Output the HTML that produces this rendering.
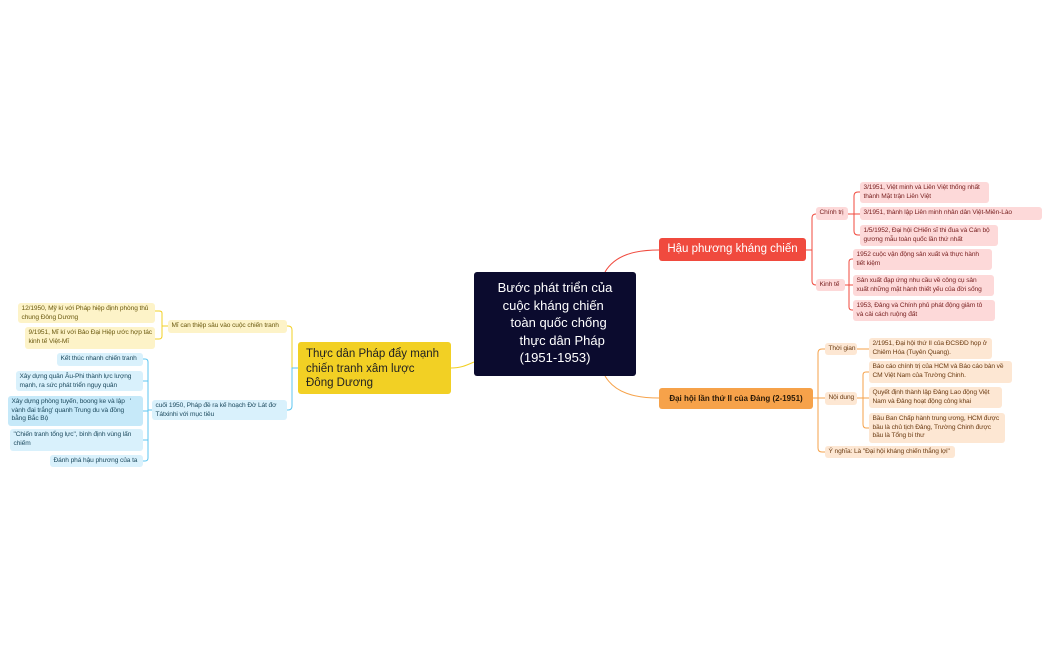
<!DOCTYPE html>
<html><head><meta charset="utf-8"><style>
body{margin:0;width:1050px;height:650px;background:#fff;position:relative;overflow:hidden;font-family:"Liberation Sans",sans-serif}
.n{position:absolute;box-sizing:border-box;border-radius:3px;font-size:6.6px;line-height:8.5px;padding:2px 3px 2px 3.5px;white-space:nowrap;letter-spacing:-0.1px}
.y{background:#fdf3c8;color:#6b5a10}
.b{background:#d9f1fc;color:#1d4a5e}
.r{background:#fdd9d9;color:#7a2323}
.o{background:#fde7d3;color:#6b3b12}
svg{position:absolute;left:0;top:0}
</style></head><body>
<svg width="1050" height="650" fill="none" stroke-width="1">
<path d="M605 272 C615 255,635 250,659 250" stroke="#f04a3e"/>
<path d="M605 376 C615 393,635 398,659 398" stroke="#f6a24a"/>
<path d="M474 362 C465 366,460 368,451 368" stroke="#f2d024"/>
<path d="M298 368 H292 V330 Q292 326 288 326 H287" stroke="#f2d024"/>
<path d="M298 368 H292 V406 Q292 410 288 410 H287" stroke="#5cc6f0"/>
<path d="M168 326 H162 V313 Q162 311 159 311 H155 M162 326 V336 Q162 339 159 339 H155" stroke="#f2d024"/>
<path d="M152 410 H148 V362 Q148 359 145 359 H143 M148 381 H143 M148 411 H143 M148 440 H143 M148 410 V458 Q148 461 145 461 H143" stroke="#5cc6f0"/>
<path d="M806 250 H812 V218 Q812 214 816 214 M812 250 V281 Q812 285 816 285" stroke="#f04a3e"/>
<path d="M848 214 H854 V196 Q854 192 858 192 H860 M854 214 H860 M854 214 V231 Q854 235 858 235 H860" stroke="#f04a3e"/>
<path d="M845 285 H849 V262 Q849 259 852 259 H853 M849 285 H853 M849 285 V307 Q849 310 852 310 H853" stroke="#f04a3e"/>
<path d="M813 398 H818 V353 Q818 349 822 349 H825 M818 398 H825 M818 398 V448 Q818 452 822 452 H825" stroke="#f6a24a"/>
<path d="M857 349 H869 M857 398 H863 V375 Q863 372 866 372 H869 M863 398 H869 M863 398 V424 Q863 428 866 428 H869" stroke="#f6a24a"/>
</svg>

<div style="position:absolute;left:474px;top:272px;width:162px;height:104px;background:#0b0b2e;border-radius:3px;color:#fff;font-size:13px;line-height:17.5px;text-align:center;padding-top:7px;box-sizing:border-box">Bước phát triển của<br>cuộc kháng chiến&nbsp;<br>&nbsp; toàn quốc chống<br>&nbsp; &nbsp; thực dân Pháp<br>(1951-1953)</div>

<div style="position:absolute;left:298px;top:342px;width:153px;height:52px;background:#f2d024;border-radius:3px;color:#222;font-size:11.5px;line-height:14.5px;padding:5px 8px;box-sizing:border-box">Thực dân Pháp đẩy mạnh<br>chiến tranh xâm lược<br>Đông Dương</div>

<div style="position:absolute;left:659px;top:238px;width:147px;height:23px;background:#f04a3e;border-radius:3px;color:#fff;font-size:11.5px;line-height:23px;text-align:center">Hậu phương kháng chiến</div>

<div style="position:absolute;left:659px;top:388px;width:154px;height:21px;background:#f6a24a;border-radius:3px;color:#2a1a08;font-size:8px;font-weight:bold;line-height:21px;text-align:center">Đại hội lần thứ II của Đảng (2-1951)</div>

<div class="n y" style="left:168px;top:320px;width:119px;height:13px">Mĩ can thiệp sâu vào cuộc chiến tranh</div>
<div class="n y" style="left:18px;top:303px;width:137px;height:20px">12/1950, Mỹ kí với Pháp hiệp định phòng thủ<br>chung Đông Dương</div>
<div class="n y" style="left:25px;top:327px;width:130px;height:22px">9/1951, Mĩ kí với Bảo Đại Hiệp ước hợp tác<br>kinh tế Việt-Mĩ</div>

<div class="n b" style="left:152px;top:400px;width:135px;height:20px">cuối 1950, Pháp đề ra kế hoạch Đờ Lát đơ<br>Tátxinhi với mục tiêu</div>
<div class="n b" style="left:57px;top:353px;width:86px;height:13px">Kết thúc nhanh chiến tranh</div>
<div class="n b" style="left:16px;top:371px;width:127px;height:20px">Xây dựng quân Âu-Phi thành lực lượng<br>mạnh, ra sức phát triển ngụy quân</div>
<div class="n b" style="left:8px;top:396px;width:135px;height:30px;background:#c6e9f9">Xây dựng phòng tuyến, boong ke và lập&nbsp; &nbsp;'<br>vành đai trắng' quanh Trung du và đồng<br>bằng Bắc Bộ</div>
<div class="n b" style="left:10px;top:429px;width:133px;height:22px">"Chiến tranh tổng lực", bình định vùng lấn<br>chiếm</div>
<div class="n b" style="left:50px;top:455px;width:93px;height:12px">Đánh phá hậu phương của ta</div>

<div class="n r" style="left:816px;top:207px;width:32px;height:13px">Chính trị</div>
<div class="n r" style="left:816px;top:279px;width:29px;height:12px">Kinh tế</div>
<div class="n r" style="left:860px;top:182px;width:129px;height:21px">3/1951, Việt minh và Liên Việt thống nhất<br>thành Mặt trận Liên Việt</div>
<div class="n r" style="left:860px;top:207px;width:182px;height:13px">3/1951, thành lập Liên minh nhân dân Việt-Miên-Lào</div>
<div class="n r" style="left:860px;top:225px;width:138px;height:21px">1/5/1952, Đại hội CHiến sĩ thi đua và Cán bộ<br>gương mẫu toàn quốc lần thứ nhất</div>
<div class="n r" style="left:853px;top:249px;width:139px;height:21px">1952 cuộc vận động sản xuất và thực hành<br>tiết kiệm</div>
<div class="n r" style="left:853px;top:275px;width:141px;height:21px">Sản xuất đạp ứng nhu cầu về công cụ sản<br>xuất những mặt hành thiết yếu của đời sống</div>
<div class="n r" style="left:853px;top:300px;width:142px;height:21px">1953, Đảng và Chính phủ phát động giảm tô<br>và cải cách ruộng đất</div>

<div class="n o" style="left:825px;top:343px;width:32px;height:12px">Thời gian</div>
<div class="n o" style="left:825px;top:392px;width:32px;height:13px">Nội dung</div>
<div class="n o" style="left:825px;top:446px;width:130px;height:12px">Ý nghĩa: Là "Đại hội kháng chiến thắng lợi"</div>
<div class="n o" style="left:869px;top:338px;width:123px;height:21px">2/1951, Đại hội thứ II của ĐCSĐD họp ở<br>Chiêm Hóa (Tuyên Quang).</div>
<div class="n o" style="left:869px;top:361px;width:143px;height:22px">Báo cáo chính trị của HCM và Báo cáo bàn về<br>CM Việt Nam của Trường Chinh.</div>
<div class="n o" style="left:869px;top:387px;width:133px;height:21px">Quyết định thành lập Đảng Lao động Việt<br>Nam và Đảng hoạt động công khai</div>
<div class="n o" style="left:869px;top:413px;width:136px;height:30px">Bầu Ban Chấp hành trung ương, HCM được<br>bầu là chủ tịch Đảng, Trường Chinh được<br>bầu là Tổng bí thư</div>
</body></html>
